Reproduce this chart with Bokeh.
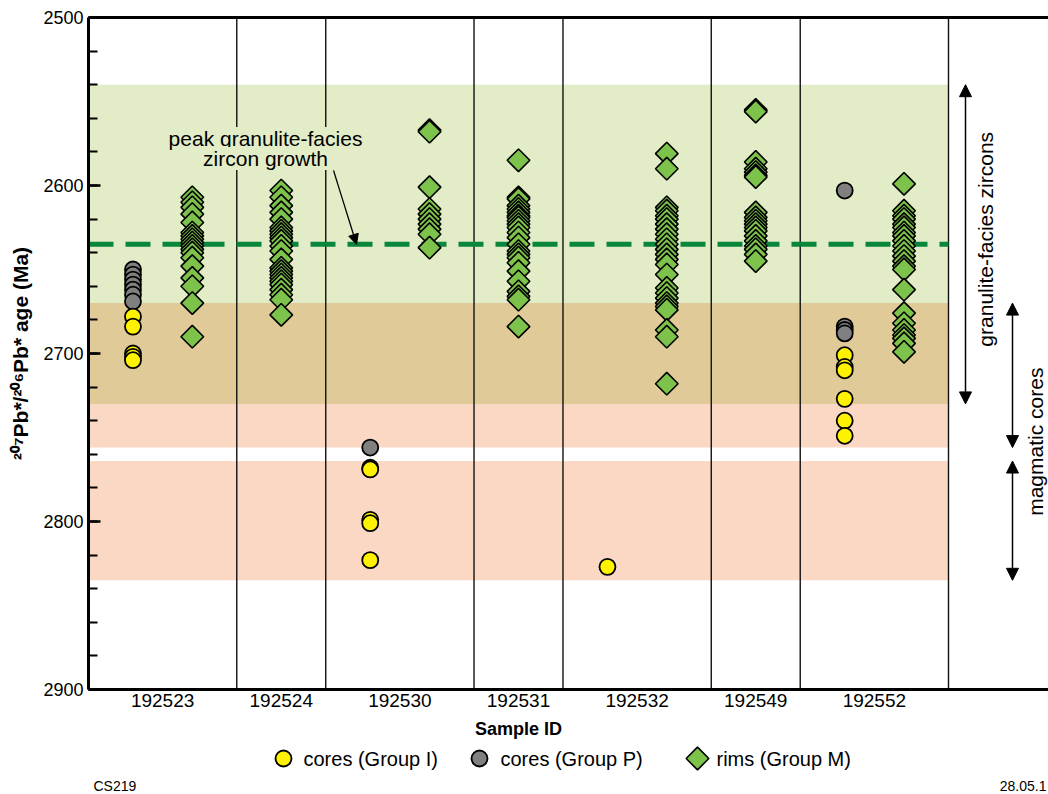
import numpy as np
from bokeh.plotting import figure
from bokeh.layouts import column
from bokeh.models import (Range1d, FixedTicker, SingleIntervalTicker, LinearAxis, Span,
                          BoxAnnotation, Label, Arrow, NormalHead)
from bokeh.core.properties import value
from bokeh.embed import file_html
from bokeh.resources import INLINE

# ---------------------------------------------------------------- data
samples = ["192523", "192524", "192530", "192531", "192532", "192549", "192552"]

# 207Pb*/206Pb* ages (Ma) per sample
cores_group_I = {
    "192523": [2678, 2684, 2700, 2702, 2704],
    "192530": [2768, 2769, 2799, 2801, 2823],
    "192532": [2827],
    "192552": [2701, 2708, 2710, 2727, 2740, 2749],
}
cores_group_P = {
    "192523": [2650, 2653, 2656, 2659, 2662, 2665, 2669],
    "192530": [2756],
    "192552": [2603, 2684, 2686, 2688],
}
rims_group_M = {
    "192523": [2607, 2610, 2613, 2617, 2622, 2628, 2630, 2632, 2634, 2636, 2638,
               2640, 2643, 2648, 2655, 2660, 2670, 2690],
    "192524": [2603, 2607, 2612, 2616, 2620, 2625, 2627, 2629, 2631, 2633, 2636,
               2639, 2644, 2649, 2651, 2653, 2655, 2657, 2659, 2662, 2665, 2668, 2677],
    "192530": [2567, 2568, 2601, 2614, 2617, 2620, 2623, 2626, 2629, 2637],
    "192531": [2585, 2607, 2608, 2612, 2614, 2616, 2618, 2619, 2621, 2623, 2625,
               2628, 2631, 2635, 2639, 2641, 2643, 2646, 2651, 2657, 2663, 2666,
               2668, 2684],
    "192532": [2581, 2590, 2613, 2615, 2618, 2620, 2623, 2626, 2629, 2632, 2635,
               2638, 2641, 2644, 2647, 2653, 2661, 2664, 2667, 2670, 2672, 2674,
               2686, 2690, 2718],
    "192549": [2555, 2556, 2586, 2590, 2592, 2594, 2595, 2616, 2619, 2621, 2623,
               2625, 2627, 2630, 2633, 2636, 2638, 2641, 2645],
    "192552": [2599, 2615, 2618, 2620, 2623, 2625, 2628, 2630, 2633, 2636, 2639,
               2642, 2645, 2648, 2650, 2662, 2676, 2682, 2686, 2689, 2691, 2694, 2699],
}

age_min, age_max = 2500, 2900
granulite_range = (2540, 2730)
magmatic_ranges = [(2670, 2756), (2764, 2835)]
peak_age = 2635

legend_labels = ["cores (Group I)", "cores (Group P)", "rims (Group M)"]

# ---------------------------------------------------------------- style
FONT = "Liberation Sans"
YELLOW = "#FFF200"
GREY = "#808080"
GREEN = "#7DC24B"
BAND_GREEN = "#E2ECC6"
BAND_TAN = "#E0CA98"
BAND_SALMON = "#FAD8C4"
PEAK_GREEN = "#08873A"

# ---------------------------------------------------------------- x layout
has_cores = [s in cores_group_I or s in cores_group_P for s in samples]
slot_w = [5 if c else 3 for c in has_cores]
edges = np.concatenate([[0], np.cumsum(slot_w)]).astype(float)
n_units = edges[-1]
centers = (edges[:-1] + edges[1:]) / 2
core_x = {s: edges[i] + 1.5 for i, s in enumerate(samples)}
rim_x = {s: edges[i] + (3.5 if has_cores[i] else 1.5) for i, s in enumerate(samples)}

FRAME_L, DATA_R, FRAME_R = 88, 948, 1048
unit_px = (DATA_R - FRAME_L) / n_units
x_end = (FRAME_R - FRAME_L) / unit_px


def xpos(px):
    return (px - FRAME_L) / unit_px


def collect(groups, xmap):
    xs, ys = [], []
    for s in samples:
        for a in sorted(groups.get(s, [])):
            xs.append(xmap[s])
            ys.append(a)
    return xs, ys


# ---------------------------------------------------------------- main plot
p = figure(width=1048, height=717,
           x_range=Range1d(0, x_end), y_range=Range1d(age_max, age_min),
           output_backend="svg", toolbar_location=None,
           min_border_left=FRAME_L, min_border_right=0,
           min_border_top=17, min_border_bottom=28,
           background_fill_color="white", border_fill_color="white")
p.grid.visible = False
p.outline_line_color = None

# shaded age bands: granulite only, overlap, magmatic only
g0, g1 = granulite_range
m_first = magmatic_ranges[0]
bands = [
    (g0, m_first[0], BAND_GREEN),
    (m_first[0], g1, BAND_TAN),
    (g1, m_first[1], BAND_SALMON),
    (magmatic_ranges[1][0], magmatic_ranges[1][1], BAND_SALMON),
]
for young, old, col in bands:
    p.add_layout(BoxAnnotation(left=0, right=n_units, top=young, bottom=old,
                               fill_color=col, fill_alpha=1.0, line_color=None,
                               level="underlay"))

for e in edges[1:]:
    p.add_layout(Span(location=e, dimension="height", line_color="#111111",
                      line_width=1.4, level="underlay"))

# peak growth reference line
p.line([0, n_units], [peak_age, peak_age], line_color=PEAK_GREEN, line_width=5,
       line_dash="25 12")

gx, gy = collect(cores_group_P, core_x)
p.scatter(gx, gy, marker="circle", size=16, fill_color=GREY,
          line_color="black", line_width=1.8)
yx, yy = collect(cores_group_I, core_x)
p.scatter(yx, yy, marker="circle", size=16, fill_color=YELLOW,
          line_color="black", line_width=1.8)
rx, ry = collect(rims_group_M, rim_x)
p.scatter(rx, ry, marker="square", angle=np.pi / 4, size=16, fill_color=GREEN,
          line_color="black", line_width=1.6)

# annotation for the peak line
for txt, age in [("peak granulite-facies", 2572), ("zircon growth", 2584)]:
    p.add_layout(Label(x=xpos(265), y=age, text=txt, text_font=FONT,
                       text_font_size="21px", text_color="black",
                       text_align="center", text_baseline="middle",
                       background_fill_color=BAND_GREEN, background_fill_alpha=1.0))
p.add_layout(Arrow(end=NormalHead(size=10, fill_color="black", line_color="black",
                                  line_width=1),
                   x_start=xpos(333), y_start=2591, x_end=xpos(356), y_end=peak_age,
                   line_color="black", line_width=1.3))


# range arrows on the right
def range_arrow(xc, a0, a1):
    p.add_layout(Arrow(start=NormalHead(size=12, fill_color="black", line_color="black"),
                       end=NormalHead(size=12, fill_color="black", line_color="black"),
                       x_start=xc, y_start=a0, x_end=xc, y_end=a1,
                       line_color="black", line_width=1.5))


range_arrow(xpos(965), g0, g1)
for a0, a1 in magmatic_ranges:
    range_arrow(xpos(1012), a0, a1)

p.add_layout(Label(x=xpos(985), y=(g0 + g1) / 2 - 3, text="granulite-facies zircons",
                   angle=np.pi / 2, text_font=FONT, text_font_size="21px",
                   text_color="black", text_align="center", text_baseline="middle"))
p.add_layout(Label(x=xpos(1035), y=(magmatic_ranges[0][0] + magmatic_ranges[1][1]) / 2,
                   text="magmatic cores", angle=np.pi / 2, text_font=FONT,
                   text_font_size="21px", text_color="black",
                   text_align="center", text_baseline="middle"))

# axes
yax = p.left[0]
yax.ticker = SingleIntervalTicker(interval=100, num_minor_ticks=5)
yax.axis_line_width = 3
yax.axis_line_color = "black"
yax.major_tick_in = 12
yax.major_tick_out = 0
yax.major_tick_line_width = 2.5
yax.minor_tick_in = 9
yax.minor_tick_out = 0
yax.minor_tick_line_width = 2
yax.major_label_text_font = FONT
yax.major_label_text_font_size = "18px"
yax.major_label_text_color = "black"
yax.major_label_standoff = 5
yax.axis_label = "²⁰⁷Pb*/²⁰⁶Pb* age (Ma)"
yax.axis_label_text_font = FONT
yax.axis_label_text_font_style = "bold"
yax.axis_label_text_font_size = "21px"
yax.axis_label_text_color = "black"
yax.axis_label_standoff = 8

xax = p.below[0]
xax.ticker = FixedTicker(ticks=[float(c) for c in centers])
xax.major_label_overrides = {float(c): s for c, s in zip(centers, samples)}
xax.axis_line_width = 3
xax.axis_line_color = "black"
xax.major_tick_in = 0
xax.major_tick_out = 0
xax.minor_tick_in = 0
xax.minor_tick_out = 0
xax.major_label_text_font = FONT
xax.major_label_text_font_size = "19px"
xax.major_label_text_color = "black"
xax.major_label_standoff = 4

# frame line along the top edge
top_axis = LinearAxis(ticker=FixedTicker(ticks=[]), axis_line_width=3,
                      axis_line_color="black",
                      major_tick_in=0, major_tick_out=0, minor_tick_in=0,
                      minor_tick_out=0, major_label_text_font_size="0px")
p.add_layout(top_axis, "above")

# ---------------------------------------------------------------- axis title and key
leg_h = 77
leg = figure(width=1048, height=leg_h, x_range=Range1d(FRAME_L, FRAME_R),
             y_range=Range1d(leg_h, 0),
             x_axis_type=None, y_axis_type=None, output_backend="svg",
             toolbar_location=None, min_border=0, min_border_left=FRAME_L,
             background_fill_color="white", border_fill_color="white")
leg.outline_line_color = None

leg.text(x=[518], y=[11], text=["Sample ID"], text_font=value(FONT),
         text_font_style="bold", text_font_size="18px", text_color="black",
         text_align="center", text_baseline="middle")

key_y = 41
leg.scatter([283], [key_y], marker="circle", size=16, fill_color=YELLOW,
            line_color="black", line_width=1.8)
leg.scatter([479], [key_y], marker="circle", size=16, fill_color=GREY,
            line_color="black", line_width=1.8)
leg.scatter([697], [key_y], marker="square", angle=np.pi / 4, size=16,
            fill_color=GREEN, line_color="black", line_width=1.6)
leg.text(x=[303, 500, 716], y=[key_y] * 3, text=legend_labels, text_font=value(FONT),
         text_font_size="20px", text_color="black", text_align="left",
         text_baseline="middle")

leg.text(x=[93], y=[68], text=["CS219"], text_font=value(FONT),
         text_font_size="14px", text_color="black", text_align="left",
         text_baseline="middle")
leg.text(x=[1046], y=[68], text=["28.05.1"], text_font=value(FONT),
         text_font_size="14px", text_color="black", text_align="right",
         text_baseline="middle")

layout = column(p, leg, spacing=0)
open("out.html", "w").write(file_html(layout, INLINE))
